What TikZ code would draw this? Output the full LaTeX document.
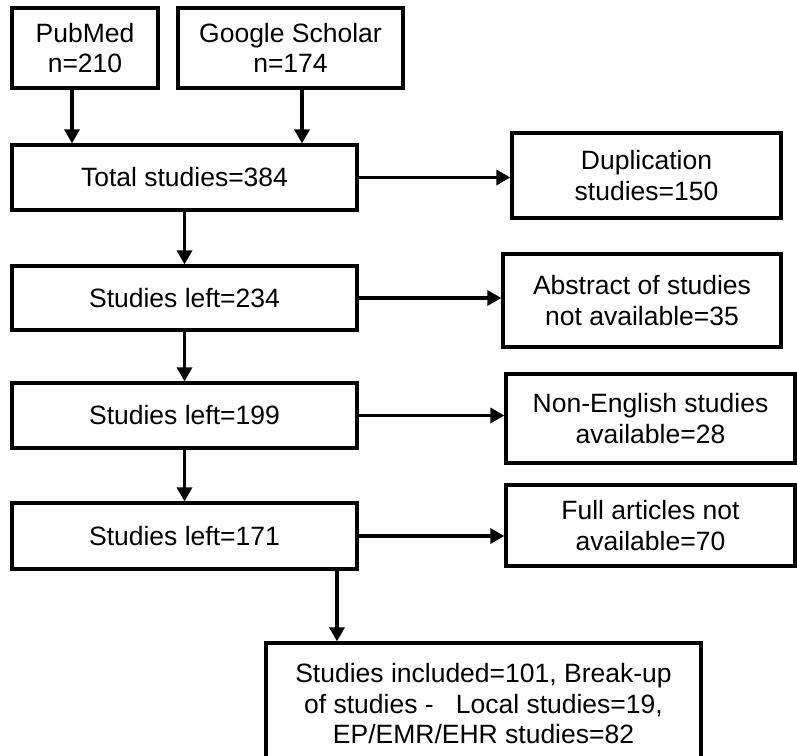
\documentclass[tikz,border=0pt]{standalone}
\usepackage{fontspec}
\setmainfont{Liberation Sans}
\usetikzlibrary{arrows.meta}
\begin{document}
\begin{tikzpicture}[x=1pt,y=-1pt,
  box/.style={draw, line width=3.3pt, align=center, inner sep=0pt,
    font=\fontsize{26.5}{30.5}\selectfont},
  arr/.style={line width=3.3pt, -{Triangle[length=14pt,width=15pt]}}]
\useasboundingbox (0,0) rectangle (797,755);
\node[box, minimum width=146pt, minimum height=80pt] (pub) at (85,48) {PubMed\\n=210};
\node[box, minimum width=225pt, minimum height=80pt] (gs) at (290.5,48) {Google Scholar\\n=174};
\node[box, minimum width=345pt, minimum height=65pt] (total) at (184.5,177.5) {Total studies=384};
\node[box, minimum width=269pt, minimum height=85pt] (dup) at (646.5,175.5) {Duplication\\studies=150};
\node[box, minimum width=345pt, minimum height=64pt] (s234) at (184.5,298) {Studies left=234};
\node[box, minimum width=278pt, minimum height=93pt] (abs) at (642,300.5) {Abstract of studies\\not available=35};
\node[box, minimum width=345pt, minimum height=65pt] (s199) at (184.5,415.5) {Studies left=199};
\node[box, minimum width=289pt, minimum height=89pt] (neng) at (650.5,418.5) {Non-English studies\\available=28};
\node[box, minimum width=345pt, minimum height=66pt] (s171) at (184.5,536) {Studies left=171};
\node[box, minimum width=289pt, minimum height=81pt] (full) at (650.5,525.5) {Full articles not\\available=70};
\node[box, minimum width=435pt, minimum height=122pt] (final) at (483.5,704) {Studies included=101, Break-up\\of studies -\ \ \ Local studies=19,\\EP/EMR/EHR studies=82};
\draw[arr] ([xshift=-13pt]pub.south) -- ([xshift=-13pt]pub.south |- total.north);
\draw[arr] ([xshift=11.5pt]gs.south) -- ([xshift=11.5pt]gs.south |- total.north);
\draw[arr] (total.south) -- (s234.north);
\draw[arr] (s234.south) -- (s199.north);
\draw[arr] (s199.south) -- (s171.north);
\draw[arr] ([xshift=-146.5pt]final.north |- s171.south) -- ([xshift=-146.5pt]final.north);
\draw[arr] (total.east) -- (total.east -| dup.west);
\draw[arr] (s234.east) -- (s234.east -| abs.west);
\draw[arr] (s199.east) -- (s199.east -| neng.west);
\draw[arr] (s171.east) -- (s171.east -| full.west);
\end{tikzpicture}
\end{document}
